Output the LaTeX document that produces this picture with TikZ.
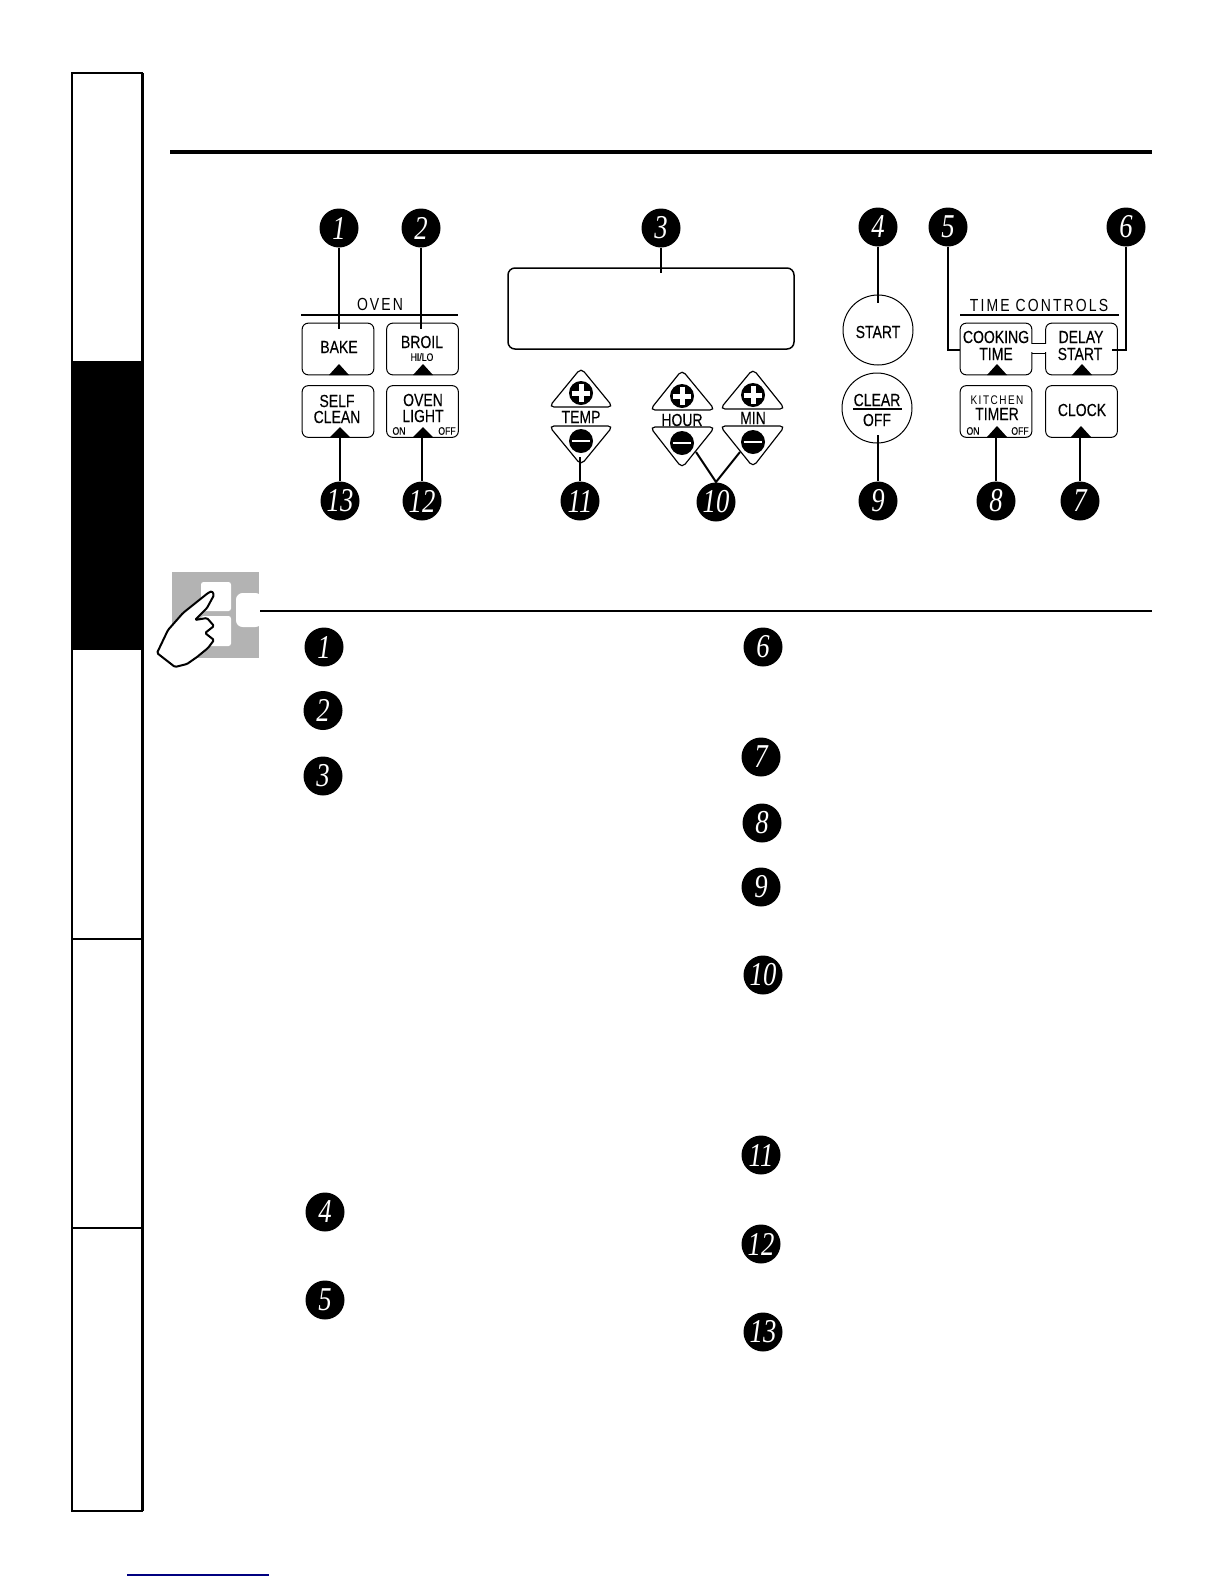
\documentclass[tikz,border=0pt]{standalone}
\usepackage{fontspec}
\newfontfamily\panelfont[FakeStretch=0.8,FakeBold=0.2]{Liberation Sans}
\newfontfamily\spacedfont[FakeStretch=0.8,LetterSpace=12]{Liberation Sans}
\newfontfamily\digitfont[FakeStretch=0.8,ItalicFont={Liberation Serif Italic}]{Liberation Serif}
\definecolor{tabgrey}{HTML}{B3B3B3}
\definecolor{linknavy}{HTML}{000080}
\tikzset{
  numdot/.style={circle, fill=black, text=white, inner sep=0pt, minimum size=23.4pt, font=\digitfont\itshape\fontsize{20}{20}\selectfont},
  keybox/.style={draw, line width=0.6pt, rounded corners=3.6pt, minimum width=43pt, minimum height=31pt, inner sep=0pt},
  keytext/.style={inner sep=0pt, font=\panelfont\fontsize{10.5}{10.5}\selectfont},
  smalltext/.style={inner sep=0pt, font=\panelfont\fontsize{6.5}{6.5}\selectfont},
  headtext/.style={inner sep=0pt, font=\spacedfont\fontsize{10.5}{10.5}\selectfont},
  roundkey/.style={draw, circle, line width=0.6pt, inner sep=0pt, minimum size=42pt},
  signdot/.style={circle, fill=black, inner sep=0pt, minimum size=14.4pt},
  lead/.style={line width=1.2pt},
  padline/.style={line width=0.7pt, rounded corners=3pt}
}
\begin{document}
\begin{tikzpicture}[x=0.6pt,y=-0.6pt]
\useasboundingbox (0,0) rectangle (1224,1584);
% side tabs
\fill[black] (72,361) rectangle (142,650);
\draw[line width=1.2pt] (72,73) rectangle (142,1511);
\draw[line width=1.8pt] (142,73) -- (142,1511);
\draw[line width=1.2pt] (72,939) -- (142,939);
\draw[line width=1.2pt] (72,1228) -- (142,1228);
\draw[line width=2.4pt] (170,152) -- (1152,152);
\draw[linknavy, line width=0.8pt] (127,1575) -- (269,1575);

% oven keys
\draw[lead] (301,315) -- (458,315);
\node[headtext] (oventitle) at (380,304) {OVEN};
\node[keybox] (bake) at (338,349) {};
\node[keybox] (broil) at (422.5,349) {};
\node[keybox] (selfclean) at (338,411.5) {};
\node[keybox] (ovenlight) at (422.5,411.5) {};
\node[keytext] (baketext) at (339,347) {BAKE};
\node[keytext] (broiltext) at (422,342) {BROIL};
\node[smalltext] (hilotext) at (422,357) {HI/LO};
\node[keytext] (selftext) at (337,401) {SELF};
\node[keytext] (cleantext) at (337,417) {CLEAN};
\node[keytext] (oventext) at (423,400) {OVEN};
\node[keytext] (lighttext) at (423,416) {LIGHT};
\node[smalltext] (lighton) at (399,431) {ON};
\node[smalltext] (lightoff) at (447,431) {OFF};
\fill (329,375) -- (339,364) -- (349,375) -- cycle;
\fill (413,375) -- (423,364) -- (433,375) -- cycle;
\fill (330,437) -- (340,427) -- (350,437) -- cycle;
\fill (413,437) -- (423,427) -- (433,437) -- cycle;

% display
\node[draw, line width=0.9pt, rounded corners=4.2pt, minimum width=171.6pt, minimum height=48.6pt, inner sep=0pt] (display) at (651,308.5) {};

% temp and time pads
\draw[padline] (549,407) -- (581,368) -- (613,407) -- cycle;
\draw[padline] (549,426) -- (581,465) -- (613,426) -- cycle;
\draw[padline] (650,410) -- (682,370) -- (715,410) -- cycle;
\draw[padline] (650,427) -- (682,468) -- (715,427) -- cycle;
\draw[padline] (720,409) -- (753,369) -- (785,409) -- cycle;
\draw[padline] (720,426) -- (753,467) -- (785,426) -- cycle;
\node[signdot] (tempplus) at (581,393) {};
\node[signdot] (tempminus) at (581,441) {};
\node[signdot] (hourplus) at (682,396) {};
\node[signdot] (hourminus) at (682,443) {};
\node[signdot] (minplus) at (753,395) {};
\node[signdot] (minminus) at (753,442) {};
\draw[white, line width=3pt] (tempplus.west) ++(3,0) -- ++(18,0) (tempplus.north) ++(0,3) -- ++(0,18);
\draw[white, line width=3pt] (hourplus.west) ++(3,0) -- ++(18,0) (hourplus.north) ++(0,3) -- ++(0,18);
\draw[white, line width=3pt] (minplus.west) ++(3,0) -- ++(18,0) (minplus.north) ++(0,3) -- ++(0,18);
\draw[white, line width=1.5pt] (tempminus.west) ++(3,0) -- ++(18,0);
\draw[white, line width=1.5pt] (hourminus.west) ++(3,0) -- ++(18,0);
\draw[white, line width=1.5pt] (minminus.west) ++(3,0) -- ++(18,0);
\node[keytext] (temptext) at (581,417) {TEMP};
\node[keytext] (hourtext) at (682,420) {HOUR};
\node[keytext] (mintext) at (753,418) {MIN};

% start and clear
\node[roundkey] (start) at (878,330) {};
\node[roundkey] (clear) at (877,408) {};
\node[keytext] (starttext) at (878,332) {START};
\node[keytext] (cleartext) at (877,400) {CLEAR};
\node[keytext] (offtext) at (877,420) {OFF};
\draw[line width=0.7pt] (853,409) -- (902,409);

% time controls
\draw[lead] (960,315) -- (1119,315);
\node[headtext] (timetitle) at (1039,305) {TIME CONTROLS};
\node[keybox] (cooking) at (996,349) {};
\node[keybox] (delay) at (1081.5,349) {};
\node[keybox] (kitchen) at (996,411.5) {};
\node[keybox] (clock) at (1081.5,411.5) {};
\fill[white] (1030,344) rectangle (1048,352);
\draw[line width=0.6pt] (cooking.east |- 0,343) -- (delay.west |- 0,343);
\draw[line width=0.6pt] (cooking.east |- 0,353) -- (delay.west |- 0,353);
\node[keytext] (cooktext) at (996,337) {COOKING};
\node[keytext] (timetext) at (996,354) {TIME};
\node[keytext] (delaytext) at (1081,337) {DELAY};
\node[keytext] (startbtext) at (1080,354) {START};
\node[inner sep=0pt, font=\spacedfont\fontsize{7.5}{7.5}\selectfont] (kitchentext) at (997,400) {KITCHEN};
\node[keytext] (timertext) at (997,414) {TIMER};
\node[smalltext] (timeron) at (973,431) {ON};
\node[smalltext] (timeroff) at (1020,431) {OFF};
\node[keytext] (clocktext) at (1082,410) {CLOCK};
\fill (987,375) -- (997,364) -- (1007,375) -- cycle;
\fill (1072,375) -- (1082,364) -- (1092,375) -- cycle;
\fill (987,437) -- (997,426) -- (1007,437) -- cycle;
\fill (1071,437) -- (1081,426) -- (1091,437) -- cycle;

% numbers on the panel
\node[numdot] (num1) at (339,228) {1};
\node[numdot] (num2) at (421,228) {2};
\node[numdot] (num3) at (661,228) {3};
\node[numdot] (num4) at (878,227) {4};
\node[numdot] (num5) at (948,227) {5};
\node[numdot] (num6) at (1126,227) {6};
\node[numdot] (num7) at (1080,501) {7};
\node[numdot] (num8) at (996,501) {8};
\node[numdot] (num9) at (878,501) {9};
\node[numdot] (num10) at (716,502) {10};
\node[numdot] (num11) at (580,501) {11};
\node[numdot] (num12) at (422,501) {12};
\node[numdot] (num13) at (340,501) {13};

\coordinate (bakeend) at (339,329);
\coordinate (broilend) at (421,329);
\coordinate (displayend) at (661,273);
\coordinate (startend) at (878,303);
\coordinate (cookend) at (960,350);
\coordinate (delayend) at (1112,350);
\coordinate (selfend) at (340,432);
\coordinate (lightend) at (422,432);
\coordinate (tempend) at (580,457);
\coordinate (hourend) at (696,452);
\coordinate (minend) at (740,452);
\coordinate (clearend) at (878,435);
\coordinate (timerend) at (996,430);
\coordinate (clockend) at (1080,430);
\coordinate (tenjoin) at (716,482);
\draw[lead] (num1) -- (bakeend);
\draw[lead] (num2) -- (broilend);
\draw[lead] (num3) -- (displayend);
\draw[lead] (num4) -- (startend);
\draw[lead] (num5) |- (cookend);
\draw[lead] (num6) |- (delayend);
\draw[lead] (num7) -- (clockend);
\draw[lead] (num8) -- (timerend);
\draw[lead] (num9) -- (clearend);
\draw[lead] (hourend) -- (tenjoin) -- (minend);
\draw[lead] (num11) -- (tempend);
\draw[lead] (num12) -- (lightend);
\draw[lead] (num13) -- (selfend);

% hand symbol
\fill[tabgrey] (172,572) rectangle (259,658);
\fill[white, rounded corners=1.5pt] (201,582) rectangle (231,611);
\fill[white, rounded corners=1.5pt] (201,616) rectangle (231,646);
\fill[white, rounded corners=4pt] (262,593) -- (236,593) -- (236,627) -- (262,627) -- cycle;
\draw[lead] (260,611) -- (1152,611);
\draw[fill=white, line width=1.2pt, line join=round, rounded corners=0.8pt] (175,667) -- (157,653) -- (168,630) -- (183,613) -- (208,593) -- (212,591) -- (214,595) -- (207,608) -- (195,620) -- (207,618) -- (214,626) -- (205,633) -- (214,640) -- (208,648) -- (197,657) -- (187,664) -- cycle;

% numbers in the text below
\node[numdot] (item1) at (324,647) {1};
\node[numdot] (item2) at (323,710.5) {2};
\node[numdot] (item3) at (323,776) {3};
\node[numdot] (item4) at (325,1212) {4};
\node[numdot] (item5) at (325,1300) {5};
\node[numdot] (item6) at (763,647) {6};
\node[numdot] (item7) at (761,757) {7};
\node[numdot] (item8) at (762,823) {8};
\node[numdot] (item9) at (761,887) {9};
\node[numdot] (item10) at (763,975) {10};
\node[numdot] (item11) at (761,1155) {11};
\node[numdot] (item12) at (761,1244) {12};
\node[numdot] (item13) at (763,1332) {13};
\end{tikzpicture}
\end{document}
